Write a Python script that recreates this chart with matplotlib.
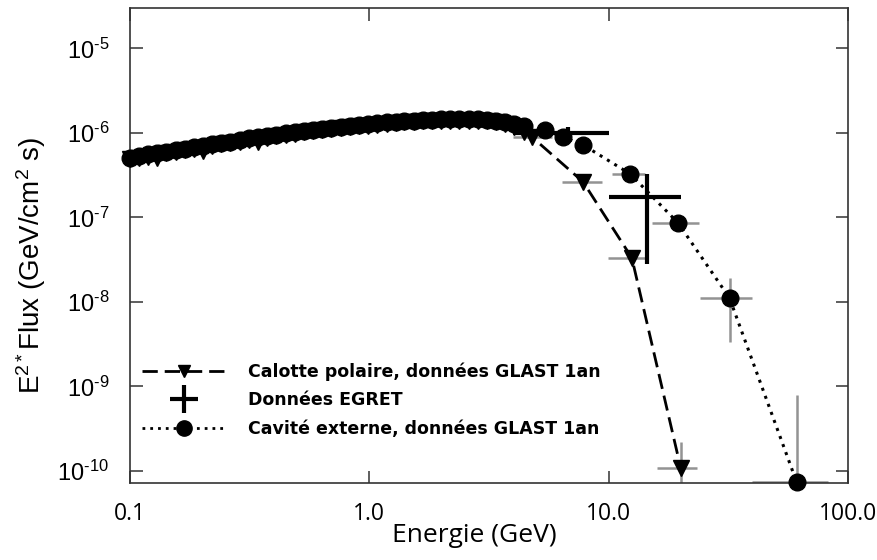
import matplotlib
matplotlib.use('Agg')
import matplotlib.pyplot as plt
from matplotlib.lines import Line2D
from matplotlib.ticker import NullLocator
import numpy as np

plt.rcParams['mathtext.fontset'] = 'custom'
plt.rcParams['mathtext.rm'] = 'Liberation Sans'
plt.rcParams['mathtext.it'] = 'Liberation Sans:italic'

# Calotte polaire (triangles), GeV / GeV cm-2 s-1
cal_e = [0.100, 0.109, 0.119, 0.130, 0.142, 0.155, 0.170, 0.185, 0.202, 0.221,
         0.241, 0.263, 0.288, 0.314, 0.343, 0.375, 0.409, 0.447, 0.488, 0.533,
         0.582, 0.635, 0.694, 0.758, 0.828, 0.904, 0.987, 1.08, 1.18, 1.29,
         1.40, 1.53, 1.68, 1.83, 2.00, 2.18, 2.38, 2.60, 2.84, 3.10,
         3.39, 3.70, 4.04, 4.41, 4.79, 7.82, 12.5, 20.0]
cal_f = [4.90e-7, 5.10e-7, 5.20e-7, 5.00e-7, 5.75e-7, 6.00e-7, 6.30e-7, 6.50e-7, 6.10e-7, 7.00e-7,
         7.30e-7, 7.60e-7, 7.90e-7, 8.20e-7, 7.80e-7, 8.80e-7, 9.10e-7, 9.40e-7, 9.70e-7, 1.01e-6,
         1.04e-6, 1.07e-6, 1.10e-6, 1.13e-6, 1.16e-6, 1.19e-6, 1.22e-6, 1.25e-6, 1.28e-6, 1.30e-6,
         1.33e-6, 1.35e-6, 1.37e-6, 1.38e-6, 1.39e-6, 1.40e-6, 1.40e-6, 1.40e-6, 1.39e-6, 1.37e-6,
         1.33e-6, 1.26e-6, 1.16e-6, 1.03e-6, 8.9e-7, 2.63e-7, 3.32e-8, 1.09e-10]

# Cavité externe (cercles)
cav_e = [0.100, 0.109, 0.119, 0.130, 0.142, 0.155, 0.170, 0.185, 0.202, 0.221,
         0.241, 0.263, 0.288, 0.314, 0.343, 0.375, 0.409, 0.447, 0.488, 0.533,
         0.582, 0.635, 0.694, 0.758, 0.828, 0.904, 0.987, 1.08, 1.18, 1.29,
         1.40, 1.53, 1.68, 1.83, 2.00, 2.18, 2.38, 2.60, 2.84, 3.10,
         3.39, 3.70, 4.04, 4.41, 5.42, 6.44, 7.82, 12.3, 19.5, 32.0, 61.0]
cav_f = [5.10e-7, 5.30e-7, 5.60e-7, 5.75e-7, 6.00e-7, 6.30e-7, 6.50e-7, 6.80e-7, 7.00e-7, 7.35e-7,
         7.60e-7, 7.90e-7, 8.25e-7, 8.60e-7, 8.85e-7, 9.20e-7, 9.55e-7, 9.85e-7, 1.02e-6, 1.05e-6,
         1.08e-6, 1.12e-6, 1.15e-6, 1.18e-6, 1.21e-6, 1.24e-6, 1.27e-6, 1.30e-6, 1.33e-6, 1.35e-6,
         1.38e-6, 1.40e-6, 1.42e-6, 1.43e-6, 1.44e-6, 1.45e-6, 1.45e-6, 1.45e-6, 1.44e-6, 1.42e-6,
         1.39e-6, 1.34e-6, 1.27e-6, 1.19e-6, 1.08e-6, 8.97e-7, 7.2e-7, 3.27e-7, 8.6e-8, 1.11e-8, 7.4e-11]

# barres d'erreur (grises) des points a haute energie
cal_err_e = [4.79, 7.82, 12.5, 20.0]
cal_err_f = [8.9e-7, 2.63e-7, 3.32e-8, 1.09e-10]
cal_err_elo = [4.0, 6.4, 9.9, 15.9]
cal_err_ehi = [5.8, 9.4, 14.6, 23.4]
cal_err_flo = [8.9e-7, 2.63e-7, 3.32e-8, 1e-11]
cal_err_fhi = [8.9e-7, 2.63e-7, 3.32e-8, 2.2e-10]

cav_err_e = [12.3, 19.5, 32.0, 61.0]
cav_err_f = [3.27e-7, 8.6e-8, 1.11e-8, 7.4e-11]
cav_err_elo = [10.3, 15.2, 24.1, 39.7]
cav_err_ehi = [14.2, 23.9, 39.7, 82.6]
cav_err_flo = [3.27e-7, 8.6e-8, 3.37e-9, 1e-11]
cav_err_fhi = [3.27e-7, 8.6e-8, 1.92e-8, 7.9e-10]

# EGRET
egr_e = [6.76, 14.5]
egr_f = [1.0e-6, 1.73e-7]
egr_elo = [4.0, 10.0]
egr_ehi = [10.0, 20.0]
egr_flo = [0.85e-6, 2.83e-8]
egr_fhi = [1.18e-6, 3.25e-7]

x_ticks = [0.1, 1.0, 10.0, 100.0]
x_labels = ['0.1', '1.0', '10.0', '100.0']
y_ticks = [1e-10, 1e-9, 1e-8, 1e-7, 1e-6, 1e-5]
y_labels = ['$\\mathregular{10^{\u2010' + p + '}}$' for p in ['10', '9', '8', '7', '6', '5']]

fig = plt.figure(figsize=(8.77, 5.60), dpi=100)
ax = fig.add_axes([0.1482, 0.1375, 0.8187, 0.8482])
ax.set_xscale('log')
ax.set_yscale('log')
ax.set_xlim(0.1, 100)
ax.set_ylim(7.2e-11, 3.0e-5)

grey = '#939393'


def asym(v, lo, hi):
    v = np.array(v)
    return [v - np.array(lo), np.array(hi) - v]


ax.errorbar(cal_err_e, cal_err_f, xerr=asym(cal_err_e, cal_err_elo, cal_err_ehi),
            yerr=asym(cal_err_f, cal_err_flo, cal_err_fhi),
            fmt='none', ecolor=grey, elinewidth=1.8, zorder=2)
ax.errorbar(cav_err_e, cav_err_f, xerr=asym(cav_err_e, cav_err_elo, cav_err_ehi),
            yerr=asym(cav_err_f, cav_err_flo, cav_err_fhi),
            fmt='none', ecolor=grey, elinewidth=1.8, zorder=2)

ax.plot(cal_e, cal_f, color='black', lw=2.0, dashes=(5.5, 2.5),
        marker='v', ms=11.5, zorder=3, clip_on=False)
ax.plot(cav_e, cav_f, color='black', lw=2.2, dashes=(1, 1.8),
        marker='o', ms=12, zorder=3, clip_on=False)

ax.errorbar(egr_e, egr_f, xerr=asym(egr_e, egr_elo, egr_ehi),
            yerr=asym(egr_f, egr_flo, egr_fhi),
            fmt='none', ecolor='black', elinewidth=3, zorder=4)

ax.set_xticks(x_ticks)
ax.set_xticklabels(x_labels, fontfamily='Open Sans', fontsize=16.5)
ax.set_yticks(y_ticks)
ax.set_yticklabels(y_labels, fontfamily='Liberation Sans', fontsize=17)
ax.xaxis.set_minor_locator(NullLocator())
ax.yaxis.set_minor_locator(NullLocator())
ax.tick_params(axis='both', which='major', direction='in', length=9, width=1.1,
               top=True, right=True, color='#333333')
ax.tick_params(axis='x', pad=14)
ax.tick_params(axis='y', pad=15)
for sp in ax.spines.values():
    sp.set_color('#333333')
    sp.set_linewidth(1.2)

ax.set_xlabel('Energie (GeV)', fontfamily='Open Sans', fontsize=19)
ax.xaxis.set_label_coords(0.48, -0.085)
ax.set_ylabel(r'E$^{\mathregular{2*}}$Flux (GeV/cm$^{\mathregular{2}}$ s)',
              fontfamily='Liberation Sans', fontsize=20)
ax.yaxis.set_label_coords(-0.114, 0.457)

handles = [
    Line2D([], [], color='black', lw=2.0, dashes=(5.5, 2.5), marker='v', ms=9),
    Line2D([], [], color='black', lw=0, marker='+', ms=20, mew=3),
    Line2D([], [], color='black', lw=2.0, dashes=(1, 1.8), marker='o', ms=11),
]
labels = ['Calotte polaire, données GLAST 1an', 'Données EGRET',
          'Cavité externe, données GLAST 1an']
ax.legend(handles, labels, loc='upper left', bbox_to_anchor=(0.0167, 0.254),
          frameon=False, handlelength=4.9, handletextpad=1.2, labelspacing=0.6,
          borderpad=0, borderaxespad=0,
          prop={'family': 'DejaVu Sans', 'weight': 'bold', 'size': 12.5})

fig.savefig('out.png', dpi=100)
